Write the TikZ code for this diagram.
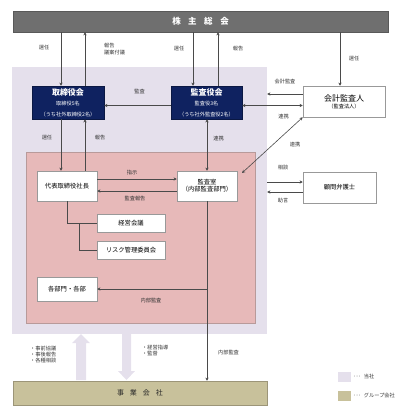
\documentclass[tikz,border=0pt]{standalone}
\usepackage{fontspec}
\setmainfont{Noto Sans CJK JP}
\usetikzlibrary{arrows.meta}
\definecolor{barGray}{HTML}{6F6F6F}
\definecolor{toshaC}{HTML}{E5E0EC}
\definecolor{pinkC}{HTML}{E7B9B9}
\definecolor{pinkB}{HTML}{B89A9A}
\definecolor{navyC}{HTML}{0F2260}
\definecolor{tanC}{HTML}{C8C19B}
\definecolor{tanB}{HTML}{9C9578}
\definecolor{lineC}{HTML}{4A4A4A}
\definecolor{txtC}{HTML}{333333}
\begin{document}
\begin{tikzpicture}[x=1pt,y=-1pt,
  fs/.style={font=\fontsize{#1}{\dimexpr #1pt*13/10\relax}\selectfont},
  lbl/.style={fs=5.2,text=txtC,inner sep=0pt},
  whitebox/.style={draw=black!40,fill=white,line width=0.5pt,inner sep=0pt,fs=6.3,text=black},
  navybox/.style={draw=navyC!70!black,fill=navyC,text=white,inner sep=0pt,align=center,line width=0.5pt},
  arr/.style={draw=lineC,line width=0.6pt,-{Stealth[length=3.2pt,width=3.2pt]}},
  darr/.style={draw=lineC,line width=0.6pt,{Stealth[length=3.2pt,width=3.2pt]}-{Stealth[length=3.2pt,width=3.2pt]}},
  conn/.style={draw=lineC,line width=0.6pt}]
\useasboundingbox (0,0) rectangle (400,410);

% regions
\node[fill=toshaC,inner sep=0pt,minimum width=255pt,minimum height=267pt] (tosha) at (139.5,200.5) {};
\node[fill=pinkC,draw=pinkB,line width=0.5pt,inner sep=0pt,minimum width=229pt,minimum height=171pt] (naibu) at (140.5,237.5) {};

% bars
\node[fill=barGray,draw=barGray!80!black,line width=0.4pt,inner sep=0pt,minimum width=375pt,minimum height=21pt,text=white,fs=8.5] (kabu) at (200.5,21.5) {\bfseries 株\hspace{7.5pt}主\hspace{7.5pt}総\hspace{7.5pt}会};
\node[fill=tanC,draw=tanB,line width=0.5pt,inner sep=0pt,minimum width=254pt,minimum height=24pt,text=black!85,fs=7] (jigyo) at (140,393) {事\hspace{6pt}業\hspace{6pt}会\hspace{6pt}社};

% block arrows
\fill[toshaC] (76,380) -- (76,343) -- (72,343) -- (81,334) -- (90,343) -- (86,343) -- (86,380) -- cycle;
\fill[toshaC] (122,334) -- (122,371) -- (118,371) -- (126.5,380) -- (135,371) -- (131,371) -- (131,334) -- cycle;

% boxes
\node[navybox,minimum width=72pt,minimum height=33pt] (tb) at (68,102.5)
  {{\fontsize{8}{10}\selectfont\bfseries 取締役会}\\[-1.5pt]{\fontsize{5.2}{7}\selectfont 取締役5名}\\[-1.5pt]{\fontsize{5.2}{7}\selectfont （うち社外取締役2名）}};
\node[navybox,minimum width=71pt,minimum height=33pt] (ka) at (206.5,102.5)
  {{\fontsize{8}{10}\selectfont\bfseries 監査役会}\\[-1.5pt]{\fontsize{5.2}{7}\selectfont 監査役3名}\\[-1.5pt]{\fontsize{5.2}{7}\selectfont （うち社外監査役2名）}};
\node[whitebox,minimum width=82pt,minimum height=31pt,align=center] (kaikei) at (344,101.5)
  {{\fontsize{8}{10}\selectfont 会計監査人}\\[-1pt]{\fontsize{5.2}{7}\selectfont （監査法人）}};
\node[whitebox,minimum width=60pt,minimum height=30pt] (daihyo) at (67,186) {代表取締役社長};
\node[whitebox,minimum width=60pt,minimum height=30pt,align=center] (kansa) at (207,186) {監査室\\[-1pt]（内部監査部門）};
\node[whitebox,minimum width=68pt,minimum height=18pt] (keiei) at (131,223) {経営会議};
\node[whitebox,minimum width=68pt,minimum height=18pt] (risk) at (131,250) {リスク管理委員会};
\node[whitebox,minimum width=60pt,minimum height=24pt] (bumon) at (67,289) {各部門・各部};
\node[whitebox,minimum width=73pt,minimum height=31pt] (komon) at (339.5,187.5) {顧問弁護士};

% legend
\node[fill=toshaC,inner sep=0pt,minimum width=13pt,minimum height=10pt] (leg1) at (344,376.5) {};
\node[fill=tanC,inner sep=0pt,minimum width=13pt,minimum height=10pt] (leg2) at (344,396) {};
\node[lbl,anchor=west] (leg1t) at (353,376.5) {･･･\hspace{3pt}当社};
\node[lbl,anchor=west] (leg2t) at (353,396) {･･･\hspace{3pt}グループ会社};

% helper x positions
\coordinate (x61) at (61,0);
\coordinate (x85) at (85,0);
\coordinate (x193) at (193,0);
\coordinate (x218) at (218,0);
\coordinate (x207) at (207,0);
\coordinate (x340) at (340,0);
\coordinate (y94) at (0,94);
\coordinate (y105) at (0,105.5);
\coordinate (y179) at (0,179);
\coordinate (y191) at (0,191);
\coordinate (y182) at (0,182);
\coordinate (y192) at (0,192);
\coordinate (y289) at (0,289);
\coordinate (diagA) at (242,173);
\coordinate (k1) at (67,223);
\coordinate (k2) at (79,223);
\coordinate (k3) at (79,250);

% shareholders arrows
\draw[arr] (kabu.south -| x61) -- (tb.north -| x61);
\draw[arr] (tb.north -| x85) -- (kabu.south -| x85);
\draw[arr] (kabu.south -| x193) -- (ka.north -| x193);
\draw[arr] (ka.north -| x218) -- (kabu.south -| x218);
\draw[arr] (kabu.south -| x340) -- (kaikei.north -| x340);

% board level
\draw[arr] (ka.west |- y105) -- (tb.east |- y105);
\draw[arr] (kaikei.west |- y94) -- (tosha.east |- y94);
\draw[darr] (ka.east |- y105) -- (kaikei.west |- y105);
\draw[darr] (diagA) -- (kaikei.south west);

% to president
\draw[arr] (tb.south -| x61) -- (daihyo.north -| x61);
\draw[arr] (daihyo.north -| x85) -- (tb.south -| x85);
\draw[darr] (ka.south -| x207) -- (kansa.north -| x207);

\draw[arr] (daihyo.east |- y179) -- (kansa.west |- y179);
\draw[arr] (kansa.west |- y191) -- (daihyo.east |- y191);

\draw[arr] (tosha.east |- y182) -- (komon.west |- y182);
\draw[arr] (komon.west |- y192) -- (tosha.east |- y192);

% committees
\draw[conn] (daihyo.south) -- (k1) -- (keiei.west);
\draw[conn] (k2) -- (k3) -- (risk.west);

% internal audit
\draw[arr] (kansa.south -| x207) -- (jigyo.north -| x207);
\draw[arr] (x207 |- y289) -- (bumon.east);

% labels
\node[lbl] (l1) at (44,48) {選任};
\node[lbl,anchor=west,align=left] (l2) at (104,49) {報告\\議案付議};
\node[lbl] (l3) at (179,49) {選任};
\node[lbl] (l4) at (238,49) {報告};
\node[lbl] (l5) at (354,59) {選任};
\node[lbl] (l6) at (139.5,91) {監査};
\node[lbl] (l7) at (285,82) {会計監査};
\node[lbl] (l8) at (283.5,117) {連携};
\node[lbl] (l9) at (47,137.5) {選任};
\node[lbl] (l10) at (100,138) {報告};
\node[lbl] (l11) at (218.5,138.5) {連携};
\node[lbl] (l12) at (295,145) {連携};
\node[lbl] (l13) at (132,172.5) {指示};
\node[lbl] (l14) at (135,199) {監査報告};
\node[lbl] (l15) at (283,168) {相談};
\node[lbl] (l16) at (283,201) {助言};
\node[lbl] (l17) at (151,301) {内部監査};
\node[lbl] (l18) at (228.5,353) {内部監査};
\node[lbl,anchor=west,align=left] (l19) at (30,354.5) {・事前協議\\[-1pt]・事後報告\\[-1pt]・各種相談};
\node[lbl,anchor=west,align=left] (l20) at (142,350.5) {・経営指導\\[-1pt]・監督};
\end{tikzpicture}
\end{document}
